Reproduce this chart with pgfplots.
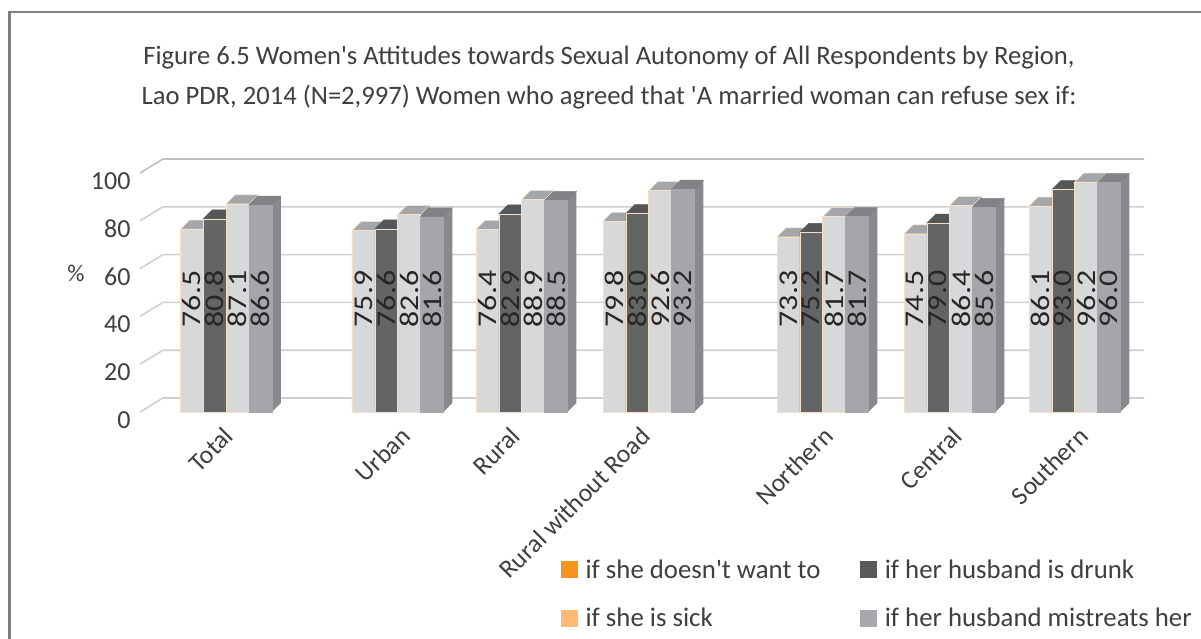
\documentclass[border=0pt]{standalone}
\usepackage{pgfplots}
\usepackage{pgfplotstable}
\usepackage{fontspec}
\setmainfont{Carlito}[Ligatures=TeXOff]
\pgfplotsset{compat=1.18}
\definecolor{txt}{HTML}{3F3F42}
\definecolor{gridc}{HTML}{D0D0D4}
\definecolor{edgeo}{HTML}{F6DFC4}
\definecolor{fa}{HTML}{D7D8DA}
\definecolor{fb}{HTML}{636466}
\definecolor{fd}{HTML}{A5A6A9}
\definecolor{ta}{HTML}{A5A6A9}
\definecolor{tb}{HTML}{555658}
\definecolor{td}{HTML}{808285}
\definecolor{sd}{HTML}{88898C}
\definecolor{lega}{HTML}{F7941E}
\definecolor{legb}{HTML}{FDBB75}
\definecolor{legc}{HTML}{58595B}
\definecolor{legd}{HTML}{A7A9AC}
\pgfplotstableread{
x s1 s2 s3 s4
180.5 76.5 80.8 87.1 86.6
352.0 75.9 76.6 82.6 81.6
476.0 76.4 82.9 88.9 88.5
603.0 79.8 83.0 92.6 93.2
777.0 73.3 75.2 81.7 81.7
904.0 74.5 79.0 86.4 85.6
1029.0 86.1 93.0 96.2 96.0
}\T
\newcommand\faces[5]{% column, series index, side, top, edge
  \pgfplotsinvokeforeach{0,...,6}{%
    \pgfplotstablegetelem{##1}{x}\of\T\let\X\pgfplotsretval
    \pgfplotstablegetelem{##1}{#1}\of\T\let\V\pgfplotsretval
    \pgfmathsetmacro\xa{\X+#2*22.85}%
    \pgfmathsetmacro\xb{\xa+22.85}%
    \pgfmathsetmacro\xc{\xa+9}%
    \pgfmathsetmacro\xd{\xb+9}%
    \pgfmathsetmacro\yt{\V+3.77}%
    \edef\tmp{\noexpand\addplot[forget plot,fill=#3,draw=none] coordinates {(\xb,0) (\xd,3.77) (\xd,\yt) (\xb,\V)} --cycle;
      \noexpand\addplot[forget plot,fill=#4,draw=#5,line width=0.5pt] coordinates {(\xa,\V) (\xb,\V) (\xd,\yt) (\xc,\yt)} --cycle;}%
    \tmp
  }%
}
\newcommand\front[4]{% column, index, fill, edge
  \addplot[forget plot,ybar,bar width=22.85,bar shift=0pt,fill=#3,draw=#4,line width=0.6pt]
    table[x expr=\thisrow{x}+#2*22.85+11.42,y=#1]{\T};
}
\newcommand\labels[2]{%
  \addplot[forget plot,draw=none,mark=none,nodes near coords,point meta=\thisrow{#1},
    nodes near coords style={rotate=90,xscale=1.18,anchor=center,font=\fontsize{27}{27}\selectfont,text=black!85,
      /pgf/number format/assume math mode=true,
      /pgf/number format/fixed,/pgf/number format/fixed zerofill,/pgf/number format/precision=1}]
    table[x expr=\thisrow{x}+#2*22.85+11.42,y expr=47.3]{\T};
}
\begin{document}
\begin{tikzpicture}[x=1pt,y=1pt]
\useasboundingbox (0,0) rectangle (1201,638);
\fill[white] (0,0) rectangle (1201,638);
\draw[color=black!50,line width=2.6pt] (9.5,-5) -- (9.5,626) -- (1205,626);
\begin{axis}[
  at={(140pt,226pt)},anchor=south west,scale only axis,
  width=1004pt,height=253pt,
  xmin=140,xmax=1144,ymin=0,ymax=105.86,
  clip=false,
  axis line style={draw=none},
  major tick length=0pt,
  /pgf/number format/assume math mode=true,
  ytick={0,20,40,60,80,100},
  yticklabel style={font=\fontsize{26}{26}\selectfont,text=txt,anchor=east,xshift=-6pt,yshift=-8pt},
  xtick={225,402,512,642,825,954,1080},
  xticklabels={Total,Urban,Rural,Rural without Road,Northern,Central,Southern},
  xticklabel style={font=\fontsize{25.7}{26}\selectfont,text=txt,rotate=45,anchor=north east,yshift=-4pt,xshift=-8pt},
  ylabel={\%},
  ylabel style={at={(axis cs:76,58)},anchor=center,rotate=-90,font=\fontsize{24}{24}\selectfont,text=txt},
  title={Figure 6.5 Women's Attitudes towards Sexual Autonomy of All Respondents by Region,\\Lao PDR, 2014 (N=2,997) Women who agreed that 'A married woman can refuse sex if:},
  title style={at={(axis cs:609,137.3)},anchor=center,align=center,font=\fontsize{26.6}{40}\selectfont,text=txt},
  legend style={at={(axis cs:558,-60)},anchor=north west,draw=none,fill=none,legend columns=2,
    font=\fontsize{26.8}{27}\selectfont,text=txt,row sep=24pt,
    /tikz/every odd column/.append style={column sep=6pt},
    /tikz/every even column/.append style={column sep=38pt}},
  legend cell align=left,
  legend image code/.code={\fill[#1] (0pt,-8pt) rectangle (16pt,8pt);},
]
% back wall and grid
\addplot[forget plot,gridc,line width=1.6pt] coordinates {(140,0) (163,5.86) (1144,5.86)};
\addplot[forget plot,gridc,line width=1.6pt] coordinates {(140,20) (163,25.86) (1144,25.86)};
\addplot[forget plot,gridc,line width=1.6pt] coordinates {(140,40) (163,45.86) (1144,45.86)};
\addplot[forget plot,gridc,line width=1.6pt] coordinates {(140,60) (163,65.86) (1144,65.86)};
\addplot[forget plot,gridc,line width=1.6pt] coordinates {(140,80) (163,85.86) (1144,85.86)};
\addplot[forget plot,color=black!25,line width=1.6pt] coordinates {(140,100) (163,105.86) (1144,105.86)};
% bars, back to front
\faces{s1}{0}{sd}{ta}{edgeo}
\front{s1}{0}{fa}{edgeo}
\faces{s2}{1}{sd}{tb}{tb}
\front{s2}{1}{fb}{edgeo}
\faces{s3}{2}{sd}{ta}{edgeo}
\front{s3}{2}{fa}{edgeo}
\faces{s4}{3}{sd}{td}{td}
\front{s4}{3}{fd}{fd}
\labels{s1}{0}
\labels{s2}{1}
\labels{s3}{2}
\labels{s4}{3}
\addlegendimage{lega}\addlegendentry{if she doesn't want to}
\addlegendimage{legc}\addlegendentry{if her husband is drunk}
\addlegendimage{legb}\addlegendentry{if she is sick}
\addlegendimage{legd}\addlegendentry{if her husband mistreats her}
\end{axis}
\end{tikzpicture}
\end{document}
